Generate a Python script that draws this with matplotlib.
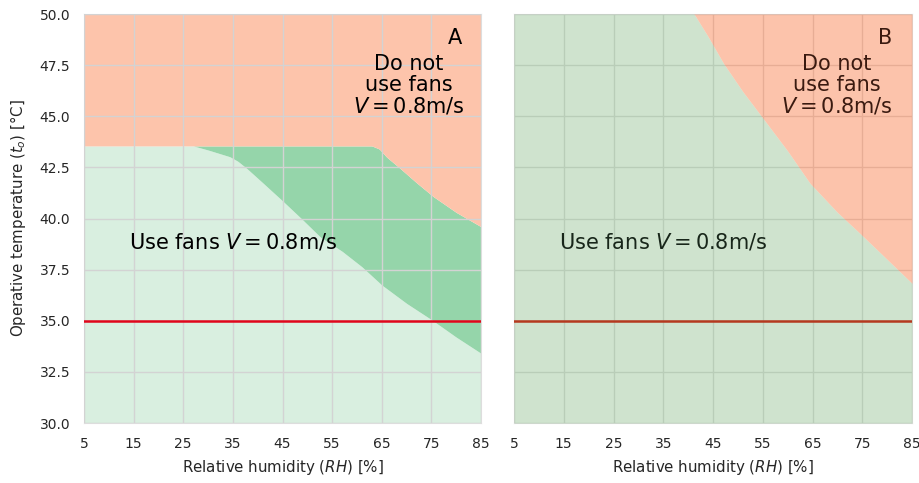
import matplotlib.pyplot as plt
import numpy as np

# panel A: boundary of "do not use fans" region (upper) and lower edge of dark-green band
rh_upper = [5, 63.0, 64.5, 66.0, 68.7, 72.0, 75.4, 80.0, 85]
t_upper = [43.55, 43.55, 43.4, 43.0, 42.45, 41.75, 41.07, 40.3, 39.6]
rh_lower = [5, 27.0, 30.0, 34.4, 36.0, 37.8, 41.0, 45.2, 49.0, 52.6,
            57.0, 61.0, 65.0, 70.0, 75.1, 80.0, 85]
t_lower = [43.55, 43.55, 43.35, 43.02, 42.8, 42.45, 41.75, 40.82, 39.95, 39.1,
           38.4, 37.64, 36.75, 35.85, 35.04, 34.2, 33.41]

# panel B: single boundary
rh_b = [41.2, 44.0, 47.1, 51.0, 54.8, 60.0, 64.5, 70.0, 74.5, 80.0, 85]
t_b = [50.0, 48.9, 47.59, 46.2, 44.98, 43.3, 41.72, 40.3, 39.28, 38.0, 36.83]

t_limit = 35.0
xticks = [5, 15, 25, 35, 45, 55, 65, 75, 85]
yticks = [30.0, 32.5, 35.0, 37.5, 40.0, 42.5, 45.0, 47.5, 50.0]

orange = '#fdc4ab'
light_green = '#d9efe0'
dark_green = '#95d5aa'

fig = plt.figure(figsize=(9.19, 4.83), dpi=100)
ax_a = fig.add_axes([0.0914, 0.1242, 0.432, 0.8468])
ax_b = fig.add_axes([0.5593, 0.1242, 0.4331, 0.8468])


def style_axes(ax):
    ax.set_xlim(5, 85)
    ax.set_ylim(30, 50)
    ax.set_xticks(xticks)
    ax.set_yticks(yticks)
    ax.set_xticklabels([str(x) for x in xticks])
    ax.grid(True, color='#d3d3d3', linewidth=1.0)
    ax.set_axisbelow(False)
    ax.tick_params(length=0, labelsize=10, labelcolor='#262626', pad=10)
    for s in ax.spines.values():
        s.set_color('#dddddd')
        s.set_linewidth(0.8)
    ax.set_xlabel('Relative humidity ($RH$) [%]', fontsize=10.8, color='#262626', labelpad=5)


# --- panel A ---
style_axes(ax_a)
xa = np.linspace(5, 85, 400)
up = np.interp(xa, rh_upper, t_upper)
lo = np.interp(xa, rh_lower, t_lower)
ax_a.fill_between(xa, 30, lo, color=light_green, lw=0, zorder=1)
ax_a.fill_between(xa, lo, up, color=dark_green, lw=0, zorder=1)
ax_a.fill_between(xa, up, 50, color=orange, lw=0, zorder=1)
ax_a.axhline(t_limit, color='#e0061b', linewidth=1.8, zorder=3)
ax_a.set_ylabel('Operative temperature ($t_o$) [°C]', fontsize=10.8, color='#262626', labelpad=8)
ax_a.text(79.8, 48.85, 'A', fontsize=15, ha='center', va='center', zorder=4)
ax_a.text(70.5, 46.5, 'Do not\nuse fans\n$V = 0.8$m/s', fontsize=15,
          ha='center', va='center', linespacing=1.05, zorder=4)
ax_a.text(35.0, 38.85, 'Use fans $V = 0.8$m/s', fontsize=15, ha='center', va='center', zorder=4)

# --- panel B ---
style_axes(ax_b)
ax_b.tick_params(labelleft=False)
xb = np.linspace(5, 85, 400)
bound = np.interp(xb, rh_b, t_b, left=50)
ax_b.fill_between(xb, 30, bound, color='#a1c99f', alpha=0.5, lw=0, zorder=5)
ax_b.fill_between(xb, bound, 50, color='#fb8959', alpha=0.5, lw=0, zorder=5)
ax_b.axhline(t_limit, color='#b5391f', linewidth=1.8, zorder=6)
ax_b.text(79.6, 48.85, 'B', fontsize=15, ha='center', va='center', color='#3a1a10', zorder=6)
ax_b.text(69.9, 46.5, 'Do not\nuse fans\n$V = 0.8$m/s', fontsize=15, color='#3a1a10',
          ha='center', va='center', linespacing=1.05, zorder=6)
ax_b.text(35.0, 38.85, 'Use fans $V = 0.8$m/s', fontsize=15, ha='center', va='center',
          color='#18261a', zorder=6)

fig.savefig('out.png', dpi=100)
